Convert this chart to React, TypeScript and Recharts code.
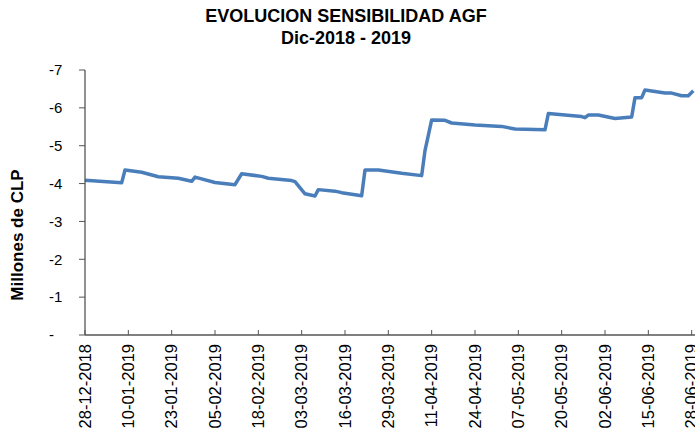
import { LineChart, Line, XAxis, YAxis } from 'recharts'

// dias desde 28-12-2018 y sensibilidad en millones de CLP
const days = [
  0, 11, 12, 17, 22, 28, 32, 33, 39, 45, 47, 53, 55, 62, 63, 66, 69, 70, 75, 77,
  83, 84, 88, 95, 101, 102, 104, 108, 110, 117, 125, 129, 138, 139, 144, 149, 150,
  151, 154, 159, 164, 165, 167, 168, 172, 174, 176, 179, 181, 182.5,
]
const values = [
  -4.09, -4.02, -4.36, -4.3, -4.18, -4.14, -4.06, -4.17, -4.03, -3.97, -4.26, -4.19,
  -4.14, -4.08, -4.05, -3.73, -3.67, -3.84, -3.8, -3.76, -3.68, -4.36, -4.36, -4.27,
  -4.21, -4.87, -5.68, -5.67, -5.6, -5.55, -5.51, -5.44, -5.42, -5.85, -5.81, -5.77,
  -5.74, -5.81, -5.81, -5.72, -5.76, -6.27, -6.27, -6.47, -6.42, -6.39, -6.39, -6.32,
  -6.32, -6.45,
]

const xTicks = [0, 13, 26, 39, 52, 65, 78, 91, 104, 117, 130, 143, 156, 169, 182]
const xLabels = [
  '28-12-2018', '10-01-2019', '23-01-2019', '05-02-2019', '18-02-2019', '03-03-2019',
  '16-03-2019', '29-03-2019', '11-04-2019', '24-04-2019', '07-05-2019', '20-05-2019',
  '02-06-2019', '15-06-2019', '28-06-2019',
]
const yTicks = [-7, -6, -5, -4, -3, -2, -1, 0]

const data = days.map((d, i) => ({ day: d, value: values[i] }))

const FONT = '"Liberation Sans", Arial, sans-serif'
const AXIS = '#555'

// eslint-disable-next-line @typescript-eslint/no-explicit-any
const XTick = ({ x, y, index }: any) => (
  <g>
    <line x1={x} y1={y} x2={x} y2={y - 5} stroke={AXIS} strokeWidth={1} />
    <text
      x={x}
      y={y + 9}
      transform={`rotate(-90 ${x} ${y + 9})`}
      textAnchor="end"
      dy="0.35em"
      fontSize={16.5}
      fontFamily={FONT}
      fill="#000"
    >
      {xLabels[index]}
    </text>
  </g>
)

// eslint-disable-next-line @typescript-eslint/no-explicit-any
const YTick = ({ x, y, payload }: any) => (
  <text x={x - 28} y={y} dy="0.35em" textAnchor="start" fontSize={15} fontFamily={FONT} fill="#000">
    {payload.value === 0 ? '-' : String(payload.value)}
  </text>
)

export default function App() {
  return (
    <div style={{ position: 'absolute', left: 0, top: 0, width: 695, height: 436, overflow: 'hidden', background: '#fff' }}>
      <div
        style={{
          position: 'absolute',
          left: 0,
          top: 5,
          width: 692,
          textAlign: 'center',
          fontFamily: FONT,
          fontWeight: 'bold',
          fontSize: 18,
          lineHeight: '22px',
          color: '#000',
        }}
      >
        <div>EVOLUCION SENSIBILIDAD AGF</div>
        <div>Dic-2018 - 2019</div>
      </div>
      <div
        style={{
          position: 'absolute',
          left: 18,
          top: 235,
          transform: 'translate(-50%, -50%) rotate(-90deg)',
          fontFamily: FONT,
          fontWeight: 'bold',
          fontSize: 17,
          whiteSpace: 'nowrap',
          color: '#000',
        }}
      >
        Millones de CLP
      </div>
      <div style={{ position: 'absolute', left: 0, top: 0 }}>
        <LineChart width={730} height={436} data={data} margin={{ top: 70, right: 15, bottom: 0, left: 0 }}>
          <XAxis
            type="number"
            dataKey="day"
            domain={[0, 189]}
            ticks={xTicks}
            interval={0}
            height={101}
            tickSize={0}
            tickMargin={0}
            tickLine={false}
            axisLine={{ stroke: AXIS, strokeWidth: 1.3 }}
            tick={<XTick />}
          />
          <YAxis
            type="number"
            domain={[-7, 0]}
            reversed
            ticks={yTicks}
            interval={0}
            width={85}
            tickSize={6}
            tickLine={{ stroke: AXIS }}
            axisLine={{ stroke: AXIS, strokeWidth: 1.3 }}
            tick={<YTick />}
          />
          <Line
            type="linear"
            dataKey="value"
            stroke="#4a7ebb"
            strokeWidth={3.5}
            dot={false}
            isAnimationActive={false}
            strokeLinejoin="round"
          />
        </LineChart>
      </div>
    </div>
  )
}
